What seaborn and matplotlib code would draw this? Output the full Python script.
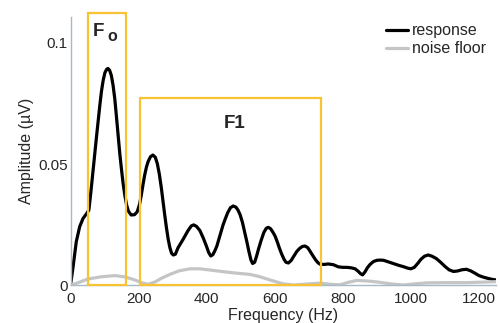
import matplotlib
matplotlib.use("Agg")
import matplotlib.pyplot as plt
from matplotlib.patches import Rectangle
import seaborn as sns
import pandas as pd

# ---- data ----
resp_freq = [0, 7, 17, 27, 37, 46, 54, 61, 66, 71, 76, 81, 86, 91, 96, 101, 106, 110, 115, 120,
             125, 130, 135, 140, 145, 150, 155, 160, 165, 170, 178, 188, 196, 203, 208, 213, 218,
             223, 228, 235, 242, 249, 255, 261, 267, 272, 277, 282, 287, 292, 297, 302, 308, 316,
             331, 345, 355, 362, 370, 380, 390, 400, 406, 412, 418, 424, 430, 440, 448, 455, 462,
             470, 478, 486, 492, 498, 505, 512, 518, 524, 530, 535, 541, 547, 552, 560, 568, 575,
             581, 588, 595, 601, 608, 614, 620, 627, 633, 640, 648, 656, 665, 673, 681, 689, 697,
             704, 712, 720, 727, 733, 745, 757, 772, 787, 800, 812, 825, 836, 845, 852, 858, 865,
             872, 880, 890, 900, 910, 920, 935, 950, 965, 980, 990, 1000, 1010, 1020, 1030, 1040,
             1051, 1062, 1075, 1088, 1100, 1112, 1125, 1137, 1150, 1163, 1175, 1188, 1200, 1212,
             1225, 1237, 1250]
resp_amp = [0.0, 0.0070, 0.0180, 0.0242, 0.0276, 0.0293, 0.0310, 0.0400, 0.0470, 0.0537, 0.0607,
            0.0674, 0.0740, 0.0800, 0.0845, 0.0876, 0.0890, 0.0894, 0.0886, 0.0865, 0.0825, 0.0770,
            0.0695, 0.0615, 0.0540, 0.0475, 0.0415, 0.0368, 0.0330, 0.0306, 0.0290, 0.0291, 0.0303,
            0.0335, 0.0372, 0.0415, 0.0455, 0.0487, 0.0510, 0.0530, 0.0537, 0.0528, 0.0502, 0.0458,
            0.0400, 0.0343, 0.0288, 0.0236, 0.0190, 0.0155, 0.0132, 0.0125, 0.0128, 0.0155, 0.0190,
            0.0225, 0.0245, 0.0249, 0.0243, 0.0226, 0.0195, 0.0159, 0.0135, 0.0121, 0.0126, 0.0142,
            0.0162, 0.0210, 0.0248, 0.0275, 0.0300, 0.0320, 0.0327, 0.0322, 0.0310, 0.0292, 0.0260,
            0.0218, 0.0180, 0.0140, 0.0105, 0.0090, 0.0095, 0.0122, 0.0148, 0.0185, 0.0218, 0.0235,
            0.0239, 0.0233, 0.0218, 0.0203, 0.0177, 0.0152, 0.0130, 0.0108, 0.0095, 0.0092, 0.0102,
            0.0120, 0.0140, 0.0152, 0.0160, 0.0162, 0.0155, 0.0140, 0.0122, 0.0105, 0.0093, 0.0087,
            0.0086, 0.0088, 0.0085, 0.0076, 0.0074, 0.0074, 0.0072, 0.0068, 0.0058, 0.0048, 0.0043,
            0.0055, 0.0072, 0.0086, 0.0098, 0.0103, 0.0104, 0.0103, 0.0096, 0.0089, 0.0082, 0.0076,
            0.0071, 0.0068, 0.0074, 0.0090, 0.0108, 0.0120, 0.0125, 0.0120, 0.0110, 0.0094, 0.0078,
            0.0064, 0.0057, 0.0059, 0.0064, 0.0066, 0.0060, 0.0050, 0.0040, 0.0034, 0.0029, 0.0025,
            0.0022]

noise_freq = [0, 25, 51, 90, 130, 159, 189, 210, 228, 250, 267, 292, 320, 351, 380, 410, 450, 488,
              527, 555, 586, 625, 655, 684, 733, 765, 791, 815, 841, 870, 900, 940, 978, 1010, 1046,
              1100, 1164, 1210, 1250]
noise_amp = [0.0, 0.0012, 0.0026, 0.0035, 0.0040, 0.0035, 0.0022, 0.0010, 0.0004, 0.0015, 0.0029,
             0.0045, 0.0060, 0.0068, 0.0068, 0.0063, 0.0056, 0.0050, 0.0045, 0.0036, 0.0022, 0.0006,
             0.0001, 0.0004, 0.0009, 0.0004, 0.0002, 0.0012, 0.0020, 0.0018, 0.0014, 0.0006, 0.0001,
             0.0006, 0.0010, 0.0011, 0.0011, 0.0013, 0.0015]

series_names = ["response", "noise floor"]
x_ticks = [0, 200, 400, 600, 800, 1000, 1200]
y_ticks = [0, 0.05, 0.1]
y_tick_labels = ["0", "0.05", "0.1"]

# annotation boxes (Hz range, amplitude top)
f0_box = (51, 163, 0.1122)
f1_box = (204, 736, 0.0772)

df = pd.concat([
    pd.DataFrame({"Frequency": resp_freq, "Amplitude": resp_amp, "series": series_names[0]}),
    pd.DataFrame({"Frequency": noise_freq, "Amplitude": noise_amp, "series": series_names[1]}),
])

sns.set_style("white")
plt.rcParams["font.family"] = ["Liberation Sans", "DejaVu Sans"]

fig = plt.figure(figsize=(5.0, 3.23), dpi=100)
ax = fig.add_axes([0.141, 0.1167, 0.851, 0.8307])

sns.lineplot(data=df, x="Frequency", y="Amplitude", hue="series", ax=ax,
             palette={"response": "#000000", "noise floor": "#c3c5c7"},
             hue_order=series_names, linewidth=2.3, sort=False, estimator=None,
             solid_joinstyle="round", solid_capstyle="round")

yellow = "#F8C332"
for (x0, x1, top) in (f0_box, f1_box):
    ax.add_patch(Rectangle((x0, 0), x1 - x0, top, fill=False, edgecolor=yellow,
                           linewidth=1.6, clip_on=False, zorder=3))

ax.text(81, 0.1046, "F", fontsize=13.5, fontweight="bold", ha="center", va="center")
ax.text(122, 0.1024, "o", fontsize=11.5, fontweight="bold", ha="center", va="center")
ax.text(483, 0.0669, "F1", fontsize=13.5, fontweight="bold", ha="center", va="center")

ax.set_xlim(0, 1250)
ax.set_ylim(0, 0.1106)
ax.set_xticks(x_ticks)
ax.set_yticks(y_ticks)
ax.set_yticklabels(y_tick_labels)
ax.tick_params(axis="both", direction="in", length=3, width=0.8, color="#a9b8c6",
               labelsize=11)
ax.tick_params(axis="x", pad=5)
ax.tick_params(axis="y", pad=2)
ax.set_xlabel("Frequency (Hz)", fontsize=11.5, labelpad=1)
ax.set_ylabel("Amplitude (\u00b5V)", fontsize=11.5, labelpad=3)

for s in ["top", "right"]:
    ax.spines[s].set_visible(False)
for s in ["left", "bottom"]:
    ax.spines[s].set_color("#a9b8c6")
    ax.spines[s].set_linewidth(1.0)

leg = ax.legend(loc="upper left", bbox_to_anchor=(0.772, 0.928),
                bbox_transform=fig.transFigure, frameon=False, fontsize=11.5,
                handlelength=1.4, handletextpad=0.2, labelspacing=0.2,
                borderpad=0, borderaxespad=0)
for line in leg.get_lines():
    line.set_linewidth(2.3)

fig.savefig("out.png", dpi=100)
